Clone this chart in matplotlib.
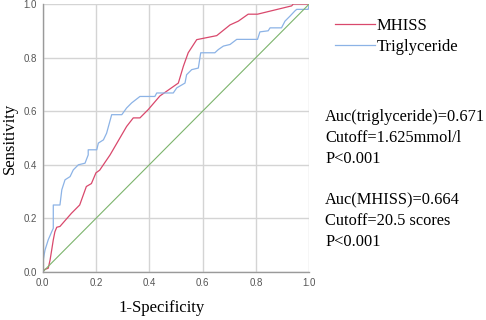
import matplotlib
matplotlib.use('Agg')
import matplotlib.pyplot as plt

# ROC points
mhiss_fpr = [0, 0.009, 0.021, 0.028, 0.034, 0.04, 0.046, 0.053, 0.065, 0.108, 0.139,
             0.164, 0.183, 0.2, 0.214, 0.253, 0.315, 0.34, 0.365, 0.396, 0.44, 0.509,
             0.528, 0.546, 0.578, 0.653, 0.703, 0.734, 0.771, 0.806, 0.934, 0.94, 1.0]
mhiss_tpr = [0, 0.01, 0.014, 0.045, 0.082, 0.12, 0.15, 0.167, 0.17, 0.219, 0.25,
             0.319, 0.33, 0.37, 0.38, 0.437, 0.543, 0.575, 0.575, 0.606, 0.657, 0.705,
             0.768, 0.818, 0.867, 0.882, 0.922, 0.936, 0.962, 0.962, 0.993, 1.0, 1.0]

tg_fpr = [0, 0, 0.005, 0.009, 0.021, 0.034, 0.04, 0.04, 0.065, 0.072, 0.084, 0.103,
          0.115, 0.134, 0.159, 0.171, 0.171, 0.203, 0.209, 0.228, 0.24, 0.259, 0.297,
          0.315, 0.334, 0.365, 0.421, 0.428, 0.49, 0.503, 0.534, 0.54, 0.559, 0.584,
          0.593, 0.646, 0.659, 0.678, 0.703, 0.728, 0.806, 0.815, 0.846, 0.853, 0.896,
          0.909, 0.928, 0.946, 0.953, 0.996, 1.0]
tg_tpr = [0, 0.03, 0.06, 0.082, 0.12, 0.15, 0.163, 0.25, 0.25, 0.307, 0.344, 0.356,
          0.381, 0.40, 0.406, 0.437, 0.456, 0.456, 0.481, 0.493, 0.518, 0.587, 0.587,
          0.612, 0.631, 0.655, 0.655, 0.668, 0.668, 0.687, 0.705, 0.736, 0.755, 0.761,
          0.818, 0.818, 0.83, 0.843, 0.849, 0.868, 0.868, 0.896, 0.9, 0.911, 0.911,
          0.936, 0.955, 0.974, 0.98, 0.98, 1.0]

ref_line = [0, 1]
ticks = [0.0, 0.2, 0.4, 0.6, 0.8, 1.0]

notes = ["Auc(triglyceride)=0.671", "Cutoff=1.625mmol/l", "P<0.001", "",
         "Auc(MHISS)=0.664", "Cutoff=20.5 scores", "P<0.001"]

serif = 'Liberation Serif'

fig = plt.figure(figsize=(4.86, 3.2), dpi=100)
ax = fig.add_axes([0.0877, 0.15, 0.5486, 0.8375])

l1, = ax.plot(mhiss_fpr, mhiss_tpr, color='#d9486c', lw=0.9, label='MHISS')
l2, = ax.plot(tg_fpr, tg_tpr, color='#8cb3e6', lw=0.9, label='Triglyceride')
ax.plot(ref_line, ref_line, color='#7cb46c', lw=0.8)

ax.set_xlim(0, 1)
ax.set_ylim(0, 1)
ax.set_xticks(ticks)
ax.set_yticks(ticks)
ax.set_xticklabels(['%.1f' % t for t in ticks])
ax.set_yticklabels(['%.1f' % t for t in ticks])
ax.tick_params(length=0, labelsize=7, labelcolor='#555555', pad=4)
for lab in ax.get_xticklabels() + ax.get_yticklabels():
    lab.set_family('Liberation Sans')
ax.grid(True, color='#d4d4d4', lw=1.0)
ax.set_axisbelow(True)
for s in ['top', 'right']:
    ax.spines[s].set_visible(False)
for s in ['left', 'bottom']:
    ax.spines[s].set_color('#9a9a9a')
    ax.spines[s].set_linewidth(1.0)

ax.set_xlabel('1-Specificity', family=serif, fontsize=12, va='center')
ax.xaxis.set_label_coords(0.448, -0.135)
ax.set_ylabel('Sensitivity', family=serif, fontsize=12, va='center')
ax.yaxis.set_label_coords(-0.122, 0.5)

fig.legend(handles=[l1, l2], loc='upper left', bbox_to_anchor=(0.659, 0.99),
           frameon=False, prop={'family': serif, 'size': 12},
           handlelength=2.4, handletextpad=0.1, labelspacing=0.3)

y0 = 117
for i, t in enumerate(notes):
    if t:
        fig.text(325 / 486, 1 - (y0 + i * 20.8) / 320, t, family=serif,
                 fontsize=11.8, va='center', ha='left')

fig.savefig('out.png', dpi=100)
